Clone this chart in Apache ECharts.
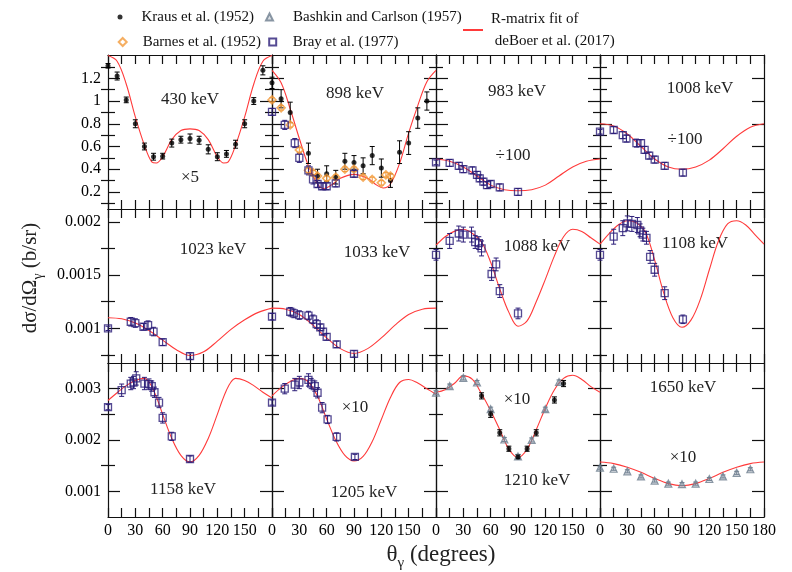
<!DOCTYPE html>
<html><head><meta charset="utf-8">
<script src="https://cdn.jsdelivr.net/npm/echarts@6/dist/echarts.min.js"></script>
<style>html,body{margin:0;padding:0;background:#fff}#c{width:792px;height:572px}</style>
</head><body><div id="c"></div>
<script>
// ---------- tick labels ----------
const xTickLabels = [0, 30, 60, 90, 120, 150, 180];
const yMajorRow1 = [0.2, 0.4, 0.6, 0.8, 1, 1.2];
const yMinorRow1 = [0.1, 0.3, 0.5, 0.7, 0.9, 1.1, 1.3];
const yMajorRow2 = [0.001, 0.0015, 0.002];
const yMinorRow2 = [0.00075, 0.00125, 0.00175];
const yMajorRow3 = [0.001, 0.002, 0.003];
const yMinorRow3 = [0.0015, 0.0025];
const rowRange = [[0.05, 1.405], [0.000675, 0.00212], [0.0005, 0.0035]];

// ---------- panel labels ----------
const energyLabels = ['430 keV','898 keV','983 keV','1008 keV','1023 keV','1033 keV','1088 keV','1108 keV','1158 keV','1205 keV','1210 keV','1650 keV'];
const scaleLabels  = ['×5','','÷100','÷100','','','','','','×10','×10','×10'];

// ---------- R-matrix fit curves [angle, value] ----------
const fit430  = [[0,1.40],[10,1.35],[20,1.15],[30,0.86],[40,0.61],[48,0.465],[53,0.455],[60,0.51],[70,0.66],[80,0.74],[90,0.755],[100,0.74],[110,0.66],[120,0.51],[127,0.455],[132,0.465],[140,0.61],[150,0.86],[160,1.15],[170,1.35],[180,1.40]];
const fit898  = [[0,1.27],[10,1.16],[20,0.93],[30,0.67],[40,0.43],[50,0.27],[57,0.23],[65,0.26],[75,0.32],[90,0.355],[105,0.32],[115,0.26],[122,0.235],[130,0.27],[140,0.45],[150,0.72],[160,0.96],[170,1.17],[180,1.27]];
const fit983  = [[0,0.49],[15,0.47],[30,0.42],[45,0.34],[60,0.26],[75,0.22],[90,0.21],[105,0.22],[120,0.26],[135,0.34],[150,0.42],[165,0.47],[180,0.49]];
const fit1008 = [[0,0.80],[15,0.78],[30,0.71],[45,0.60],[60,0.49],[75,0.42],[90,0.40],[105,0.42],[120,0.48],[135,0.58],[150,0.69],[165,0.77],[180,0.80]];
const fit1023 = [[0,0.00110],[15,0.00109],[30,0.00105],[45,0.00098],[60,0.00089],[75,0.00080],[90,0.000745],[105,0.00078],[120,0.00088],[135,0.00099],[150,0.00108],[165,0.00115],[180,0.00119]];
const fit1033 = [[0,0.00119],[15,0.00118],[30,0.00113],[45,0.00103],[60,0.00091],[75,0.00081],[90,0.000765],[105,0.00081],[120,0.00091],[135,0.00103],[150,0.00113],[165,0.00118],[180,0.00119]];
const fit1088 = [[0,0.00178],[10,0.00186],[20,0.00191],[30,0.00193],[40,0.00189],[50,0.00181],[60,0.00162],[70,0.00137],[80,0.00115],[90,0.00102],[100,0.00107],[110,0.00125],[120,0.00146],[130,0.00168],[140,0.00186],[150,0.00193],[160,0.00191],[170,0.00185],[180,0.00179]];
const fit1108 = [[0,0.00179],[10,0.00189],[20,0.00197],[30,0.00201],[40,0.00199],[50,0.00190],[60,0.00164],[70,0.00133],[80,0.00110],[90,0.00101],[100,0.00108],[110,0.00127],[120,0.00155],[130,0.00182],[140,0.00198],[150,0.00201],[160,0.00197],[170,0.00188],[180,0.00179]];
const fit1158 = [[0,0.00277],[10,0.00292],[20,0.00306],[30,0.00316],[40,0.00320],[45,0.00313],[50,0.00297],[55,0.00275],[60,0.00250],[70,0.00203],[80,0.00170],[90,0.00157],[100,0.00170],[110,0.00203],[120,0.00250],[125,0.00275],[130,0.00297],[135,0.00313],[140,0.00320],[150,0.00316],[160,0.00306],[170,0.00293],[180,0.00282]];
const fit1205 = [[0,0.00286],[10,0.00302],[20,0.00314],[30,0.00320],[40,0.00313],[50,0.00285],[60,0.00241],[70,0.00199],[80,0.00170],[90,0.00159],[100,0.00168],[110,0.00197],[120,0.00240],[130,0.00283],[140,0.00312],[150,0.00318],[160,0.00311],[170,0.00300],[180,0.00289]];
const fit1210 = [[0,0.00293],[10,0.00298],[20,0.00310],[30,0.00325],[40,0.00318],[50,0.00290],[60,0.00257],[70,0.00220],[80,0.00182],[90,0.00166],[100,0.00182],[110,0.00220],[120,0.00262],[130,0.00298],[140,0.00320],[150,0.00326],[160,0.00318],[170,0.00304],[180,0.00293]];
const fit1650 = [[0,0.00157],[15,0.00154],[30,0.00147],[45,0.00137],[60,0.00125],[75,0.00115],[90,0.00111],[105,0.00115],[120,0.00125],[135,0.00137],[150,0.00147],[165,0.00154],[180,0.00157]];

// ---------- measured data [angle, value, error] ----------
const kraus430 = [[0,1.31,0.02],[10,1.22,0.035],[20,1.01,0.025],[30,0.80,0.035],[40,0.60,0.03],[50,0.51,0.03],[60,0.515,0.025],[70,0.63,0.035],[80,0.66,0.03],[90,0.67,0.04],[100,0.655,0.035],[110,0.575,0.04],[120,0.51,0.035],[130,0.535,0.03],[140,0.62,0.035],[150,0.80,0.035],[160,1.00,0.03],[170,1.27,0.04]];
const kraus898 = [[0,1.16,0.05],[10,1.02,0.08],[20,0.90,0.09],[40,0.54,0.09],[50,0.34,0.06],[60,0.36,0.07],[70,0.33,0.06],[80,0.47,0.07],[90,0.46,0.06],[100,0.43,0.07],[110,0.52,0.08],[120,0.41,0.08],[130,0.30,0.06],[140,0.55,0.1],[150,0.63,0.1],[160,0.85,0.09],[170,1.0,0.08]];
const barnes898 = [[0,1.01,0.02],[10,0.94,0.02],[20,0.79,0.02],[30,0.57,0.02],[40,0.39,0.02],[45,0.37,0.02],[50,0.34,0.02],[60,0.32,0.02],[70,0.33,0.02],[80,0.40,0.02],[90,0.40,0.02],[100,0.33,0.02],[110,0.31,0.02],[120,0.28,0.02],[125,0.35,0.02],[130,0.34,0.02]];
const bray898 = [[0,0.905,0.03],[14,0.79,0.04],[25,0.63,0.04],[30,0.50,0.04],[40,0.39,0.04],[45,0.31,0.04],[50,0.27,0.03],[55,0.25,0.03],[60,0.25,0.03],[70,0.275,0.03],[90,0.36,0.03]];
const bray983 = [[0,0.46,0.02],[15,0.455,0.03],[25,0.43,0.03],[30,0.40,0.03],[40,0.39,0.03],[45,0.35,0.03],[48,0.32,0.03],[52,0.29,0.03],[56,0.26,0.03],[60,0.27,0.03],[70,0.24,0.03],[90,0.20,0.03]];
const bray1008 = [[0,0.73,0.02],[15,0.745,0.03],[25,0.70,0.03],[29,0.67,0.03],[40,0.63,0.035],[45,0.63,0.03],[49,0.57,0.03],[54,0.52,0.03],[60,0.485,0.03],[71,0.43,0.03],[91,0.37,0.03]];
const bray1023 = [[0,0.00100,0.00002],[25,0.001062,0.00004],[30,0.00105,0.00004],[39,0.001015,0.00003],[44,0.00103,0.00004],[50,0.00097,0.00004],[60,0.00087,0.00003],[90,0.00074,0.00003]];
const bray1033 = [[0,0.00111,0.00003],[20,0.001156,0.00004],[24,0.00114,0.00004],[30,0.001125,0.00004],[40,0.00112,0.00004],[45,0.001085,0.00004],[49,0.00104,0.00004],[53,0.00101,0.00003],[56,0.00097,0.00003],[60,0.00092,0.00003],[71,0.00085,0.00003],[90,0.00076,0.00003]];
const bray1088 = [[0,0.00169,0.00005],[15,0.00182,0.00007],[25,0.00189,0.00007],[30,0.00188,0.00007],[39,0.00188,0.00007],[43,0.00181,0.00006],[47,0.00180,0.00006],[50,0.00175,0.00007],[61,0.00151,0.00006],[66,0.00160,0.00006],[70,0.00135,0.00006],[90,0.00114,0.00005]];
const bray1108 = [[0,0.00169,0.00005],[15,0.00186,0.00007],[25,0.00194,0.00007],[30,0.001985,0.00007],[35,0.00198,0.00007],[41,0.00197,0.00007],[44,0.00192,0.00006],[47,0.00188,0.00006],[51,0.00185,0.00006],[55,0.00167,0.00006],[60,0.00155,0.00006],[71,0.00133,0.00006],[91,0.001085,0.00004]];
const bray1158 = [[0,0.00264,0.00005],[15,0.00297,0.00012],[25,0.00310,0.00012],[28,0.00312,0.00012],[31,0.00320,0.00013],[40,0.00310,0.00012],[45,0.00309,0.0001],[48,0.00305,0.0001],[51,0.00293,0.0001],[56,0.00273,0.0001],[60,0.00243,0.0001],[70,0.00207,0.00008],[90,0.00163,0.00006]];
const bray1205 = [[0,0.00273,0.00005],[14,0.00300,0.0001],[25,0.00308,0.00012],[30,0.00312,0.00012],[40,0.00317,0.00012],[43,0.00310,0.0001],[47,0.00305,0.0001],[50,0.00292,0.0001],[55,0.00263,0.0001],[61,0.00240,0.00008],[71,0.00206,0.00008],[91,0.00167,0.00005]];
const bashkin1210 = [[0,0.00292,0.00004],[15,0.00305,0.00004],[30,0.00321,0.00004],[45,0.00312,0.00004],[60,0.00260,0.00004],[75,0.00201,0.00004],[90,0.00168,0.00004],[105,0.00200,0.00004],[120,0.00260,0.00004],[135,0.00313,0.00004]];
const kraus1210 = [[50,0.00286,0.00006],[60,0.00250,0.00006],[70,0.00214,0.00006],[80,0.00183,0.00005],[90,0.00167,0.00004],[100,0.00183,0.00005],[110,0.00214,0.00006],[130,0.00278,0.00006],[140,0.00310,0.00006]];
const bashkin1650 = [[0,0.00146,0.00003],[15,0.00144,0.00003],[30,0.00139,0.00003],[45,0.00129,0.00003],[60,0.00121,0.00003],[75,0.00115,0.00003],[90,0.00114,0.00003],[105,0.00115,0.00003],[120,0.00124,0.00003],[135,0.00129,0.00003],[150,0.00136,0.00003],[165,0.00143,0.00003]];

// ---------- series names ----------
const N_K = 'Kraus et al. (1952)';
const N_B = 'Barnes et al. (1952)';
const N_BC = 'Bashkin and Carlson (1957)';
const N_BR = 'Bray et al. (1977)';
const N_R = 'R-matrix fit of\n deBoer et al. (2017)';

const panels = [
  {fit: fit430,  sets: [[N_K, kraus430]]},
  {fit: fit898,  sets: [[N_K, kraus898],[N_B, barnes898],[N_BR, bray898]]},
  {fit: fit983,  sets: [[N_BR, bray983]]},
  {fit: fit1008, sets: [[N_BR, bray1008]]},
  {fit: fit1023, sets: [[N_BR, bray1023]]},
  {fit: fit1033, sets: [[N_BR, bray1033]]},
  {fit: fit1088, sets: [[N_BR, bray1088]]},
  {fit: fit1108, sets: [[N_BR, bray1108]]},
  {fit: fit1158, sets: [[N_BR, bray1158]]},
  {fit: fit1205, sets: [[N_BR, bray1205]]},
  {fit: fit1210, sets: [[N_BC, bashkin1210],[N_K, kraus1210]]},
  {fit: fit1650, sets: [[N_BC, bashkin1650]]}
];

const FONT = '"Liberation Serif", "Times New Roman", serif';
const styles = {};
styles[N_K]  = {symbol:'circle', size:5, fill:'#000', stroke:'#000', bw:0, err:'#000'};
styles[N_B]  = {symbol:'diamond', size:8, fill:'rgba(255,255,255,0)', stroke:'#f39a3a', bw:1.6, err:'#f39a3a'};
styles[N_BC] = {symbol:'triangle', size:7, fill:'rgba(130,145,160,0.35)', stroke:'#6e7e8e', bw:1.2, err:'#6e7e8e'};
styles[N_BR] = {symbol:'rect', size:7, fill:'rgba(255,255,255,0)', stroke:'#2b1d78', bw:1.3, err:'#2b1d78'};

const GL = 108, GW = 164, GH = 154, GT = [55, 209, 363];
const yMajor = [yMajorRow1, yMajorRow2, yMajorRow3];
const yMinor = [yMinorRow1, yMinorRow2, yMinorRow3];

const grids = [], xAxes = [], yAxes = [], series = [];
const lineS = {color:'#111', width:1.2};
panels.forEach((p, i) => {
  const r = Math.floor(i / 4), c = i % 4;
  grids.push({left: GL + GW * c, top: GT[r], width: GW, height: GH, containLabel: false});
  ['bottom', 'top'].forEach(pos => {
    xAxes.push({
      gridIndex: i, type: 'value', min: 0, max: 180, interval: 15, position: pos,
      axisLine: {show: true, onZero: false, lineStyle: lineS},
      axisTick: {show: true, inside: true, length: 9, lineStyle: lineS},
      axisLabel: {show: pos === 'bottom' && r === 2,
        customValues: c === 3 ? xTickLabels : xTickLabels.slice(0, 6),
        margin: 6, fontFamily: FONT, fontSize: 16, color: '#000'},
      splitLine: {show: false}
    });
  });
  const [mn, mx] = rowRange[r];
  ['left', 'right'].forEach(pos => {
    yAxes.push({
      gridIndex: i, type: 'value', min: mn, max: mx, position: pos,
      axisLine: {show: true, onZero: false, lineStyle: lineS},
      axisTick: {show: true, inside: true, length: 12, customValues: yMajor[r], lineStyle: lineS},
      axisLabel: {show: pos === 'left' && c === 0, customValues: yMajor[r], margin: 7,
        fontFamily: FONT, fontSize: 16, color: '#000', formatter: v => String(+Number(v).toPrecision(6))},
      splitLine: {show: false}
    });
    yAxes.push({
      gridIndex: i, type: 'value', min: mn, max: mx, position: pos,
      axisLine: {show: false},
      axisTick: {show: true, inside: true, length: 7, customValues: yMinor[r], lineStyle: lineS},
      axisLabel: {show: false},
      splitLine: {show: false}
    });
  });
  const xi = 2 * i, yi = 4 * i;
  series.push({
    type: 'line', name: N_R, xAxisIndex: xi, yAxisIndex: yi, data: p.fit,
    smooth: 0.35, symbol: 'none', lineStyle: {color: '#ff3a3a', width: 1.1}, itemStyle: {color: '#ff3a3a'}, z: 2
  });
  p.sets.forEach(([name, data]) => {
    const s = styles[name];
    series.push({
      type: 'scatter', name, xAxisIndex: xi, yAxisIndex: yi, data: data.map(d => [d[0], d[1]]),
      symbol: s.symbol, symbolSize: s.size, clip: false,
      itemStyle: {color: s.fill, borderColor: s.stroke, borderWidth: s.bw}, z: 4
    });
    series.push({
      type: 'custom', name, xAxisIndex: xi, yAxisIndex: yi, data,
      encode: {x: 0, y: 1}, z: 3,
      renderItem: (params, api) => {
        const x = api.value(0), y = api.value(1), e = api.value(2);
        const a = api.coord([x, y + e]), b = api.coord([x, y - e]);
        const st = {stroke: s.err, lineWidth: 1};
        return {type: 'group', children: [
          {type: 'line', shape: {x1: a[0], y1: a[1], x2: b[0], y2: b[1]}, style: st},
          {type: 'line', shape: {x1: a[0] - 2.5, y1: a[1], x2: a[0] + 2.5, y2: a[1]}, style: st},
          {type: 'line', shape: {x1: b[0] - 2.5, y1: b[1], x2: b[0] + 2.5, y2: b[1]}, style: st}
        ]};
      }
    });
  });
});

function leg(name, left, top, w, h, gap, lh) {
  return {data: [name], left, top, itemWidth: w, itemHeight: h,
    textStyle: {fontFamily: FONT, fontSize: 15, color: '#111', lineHeight: lh || 18, padding: [0, 0, 0, gap]},
    selectedMode: false, padding: 0, itemGap: 0};
}
const legends = [
  leg(N_K, 117.5, 8, 5, 5, 14),
  leg(N_B, 117.7, 33, 8, 8, 11),
  leg(N_BC, 265, 8, 7, 7, 15),
  leg(N_BR, 268.2, 33, 7, 7, 11.5),
  leg(N_R, 462, 8, 20, 2, 3, 22)
];

const annoPos = [[190,100],[355,94],[517,92],[700,89],[213,250],[377,253],[537,247],[695,244],[183,490],[364,493],[537,481],[683,388]];
const scalePos = [[190,178],null,[513,156],[685,140],null,null,null,null,null,[355,408],[517,400],[683,458]];
const graphics = [];
energyLabels.forEach((t, i) => {
  graphics.push({type: 'text', x: annoPos[i][0], y: annoPos[i][1],
    style: {text: t, font: '17px ' + FONT, fill: '#222', align: 'center', verticalAlign: 'middle'}});
  if (scaleLabels[i]) graphics.push({type: 'text', x: scalePos[i][0], y: scalePos[i][1],
    style: {text: scaleLabels[i], font: '17px ' + FONT, fill: '#222', align: 'center', verticalAlign: 'middle'}});
});
graphics.push({type: 'text', x: 28, y: 278, rotation: Math.PI / 2,
  style: {text: '{a|dσ/dΩ}{s|γ}{a| (b/sr)}', align: 'center', verticalAlign: 'middle', fill: '#222',
    rich: {a: {fontFamily: FONT, fontSize: 21, lineHeight: 26, verticalAlign: 'bottom'},
           s: {fontFamily: FONT, fontSize: 14, lineHeight: 14, verticalAlign: 'bottom', padding: [0, 0, -4, 0]}}}});
graphics.push({type: 'text', x: 441, y: 552,
  style: {text: '{a|θ}{s|γ}{a| (degrees)}', align: 'center', verticalAlign: 'middle', fill: '#222',
    rich: {a: {fontFamily: FONT, fontSize: 23, lineHeight: 28, verticalAlign: 'bottom'},
           s: {fontFamily: FONT, fontSize: 15, lineHeight: 15, verticalAlign: 'bottom', padding: [0, 0, -5, 0]}}}});

const chart = echarts.init(document.getElementById('c'));
chart.setOption({
  animation: false, backgroundColor: '#fff',
  grid: grids, xAxis: xAxes, yAxis: yAxes, series, legend: legends, graphic: graphics
});
</script></body></html>
